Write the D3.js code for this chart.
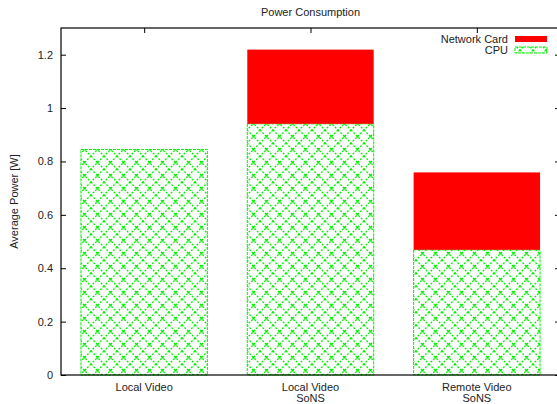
<!DOCTYPE html>
<html>
<head>
<meta charset="utf-8">
<script src="https://cdn.jsdelivr.net/npm/d3@7"></script>
<style>
  body { margin: 0; background: #fff; }
  svg { display: block; font-family: "Liberation Sans", Arial, sans-serif; }
</style>
</head>
<body>
<div id="chart"></div>
<script>
// data
var categories = [["Local Video"], ["Local Video", "SoNS"], ["Remote Video", "SoNS"]];
var cpu = [0.845, 0.941, 0.469];
var network = [0, 0.278, 0.290];
var yTicks = [0, 0.2, 0.4, 0.6, 0.8, 1, 1.2];

var W = 557, H = 404;
var m = {left: 61, top: 28, right: -3, bottom: 29};
var pw = W - m.left - m.right, ph = H - m.top - m.bottom;
var green = "#00f000";

var svg = d3.select("#chart").append("svg")
  .attr("width", W).attr("height", H);

var defs = svg.append("defs");
var pat = defs.append("pattern")
  .attr("id", "hatch")
  .attr("patternUnits", "userSpaceOnUse")
  .attr("width", 13).attr("height", 13);
pat.append("rect").attr("width", 13).attr("height", 13).attr("fill", "#fff");
pat.append("path")
  .attr("d", "M0,0L13,13M13,0L0,13")
  .attr("stroke", green).attr("stroke-width", 1.3)
  .attr("stroke-dasharray", "2,1.5");
pat.append("rect").attr("x", 5.5).attr("y", 5.5).attr("width", 2).attr("height", 2).attr("fill", green);

var x = d3.scaleLinear().domain([-0.5, 2.5]).range([m.left, m.left + pw]);
var y = d3.scaleLinear().domain([0, 1.3]).range([m.top + ph, m.top]);
var bw = 0.76;

// bars
var g = svg.append("g");
g.selectAll("rect.cpu").data(cpu).enter().append("rect")
  .attr("class", "cpu")
  .attr("x", function(d, i) { return x(i - bw / 2); })
  .attr("width", function() { return x(bw) - x(0); })
  .attr("y", function(d) { return y(d); })
  .attr("height", function(d) { return y(0) - y(d); })
  .attr("fill", "url(#hatch)")
  .attr("stroke", green).attr("stroke-width", 1)
  .attr("stroke-dasharray", "3,1");

g.selectAll("rect.net").data(network).enter().append("rect")
  .attr("class", "net")
  .attr("x", function(d, i) { return x(i - bw / 2); })
  .attr("width", function() { return x(bw) - x(0); })
  .attr("y", function(d, i) { return y(cpu[i] + d); })
  .attr("height", function(d, i) { return y(cpu[i]) - y(cpu[i] + d); })
  .attr("fill", "#ff0000")
  .style("display", function(d) { return d > 0 ? null : "none"; });

// axes
var yAxis = svg.append("g")
  .attr("transform", "translate(" + m.left + ",0)")
  .call(d3.axisLeft(y).tickValues(yTicks).tickSize(-5).tickPadding(8).tickFormat(d3.format("~g")));
var yAxisR = svg.append("g")
  .attr("transform", "translate(" + (m.left + pw) + ",0)")
  .call(d3.axisRight(y).tickValues(yTicks).tickSize(-5).tickFormat(""));
var xAxisT = svg.append("g")
  .attr("transform", "translate(0," + m.top + ")")
  .call(d3.axisTop(x).tickValues([0, 1, 2]).tickSize(-5).tickFormat(""));
[yAxis, yAxisR, xAxisT].forEach(function(a) {
  a.select(".domain").remove();
  a.selectAll("line").attr("stroke", "#000");
  a.selectAll("text").attr("font-size", 11).attr("fill", "#222").attr("font-family", "Liberation Sans, Arial, sans-serif");
});

// frame
svg.append("rect")
  .attr("x", m.left).attr("y", m.top)
  .attr("width", pw).attr("height", ph)
  .attr("fill", "none").attr("stroke", "#000").attr("stroke-width", 1.2);

// category labels
var xl = svg.append("g").selectAll("text").data(categories).enter().append("text")
  .attr("x", function(d, i) { return x(i); })
  .attr("y", m.top + ph + 16)
  .attr("text-anchor", "middle")
  .attr("font-size", 11).attr("fill", "#222");
xl.selectAll("tspan").data(function(d) { return d; }).enter().append("tspan")
  .attr("x", function() { return d3.select(this.parentNode).attr("x"); })
  .attr("dy", function(d, i) { return i ? 11 : 0; })
  .text(function(d) { return d; });

// title and y label
svg.append("text")
  .attr("x", m.left + pw / 2).attr("y", 16)
  .attr("text-anchor", "middle").attr("font-size", 11).attr("fill", "#222")
  .text("Power Consumption");
svg.append("text")
  .attr("transform", "translate(18," + (m.top + ph / 2) + ") rotate(-90)")
  .attr("text-anchor", "middle").attr("font-size", 11).attr("fill", "#222")
  .text("Average Power [W]");

// legend
var legend = [{name: "Network Card", fill: "#ff0000"}, {name: "CPU", fill: "url(#hatch)"}];
var lg = svg.append("g").selectAll("g").data(legend).enter().append("g")
  .attr("transform", function(d, i) { return "translate(0," + (39 + i * 11) + ")"; });
lg.append("text")
  .attr("x", 508).attr("y", 4)
  .attr("text-anchor", "end").attr("font-size", 11).attr("fill", "#222")
  .text(function(d) { return d.name; });
lg.append("rect")
  .attr("x", 515).attr("y", -3).attr("width", 32).attr("height", 6)
  .attr("fill", function(d) { return d.fill; })
  .attr("stroke", function(d, i) { return i ? green : "none"; })
  .attr("stroke-dasharray", "3,1");
</script>
</body>
</html>
